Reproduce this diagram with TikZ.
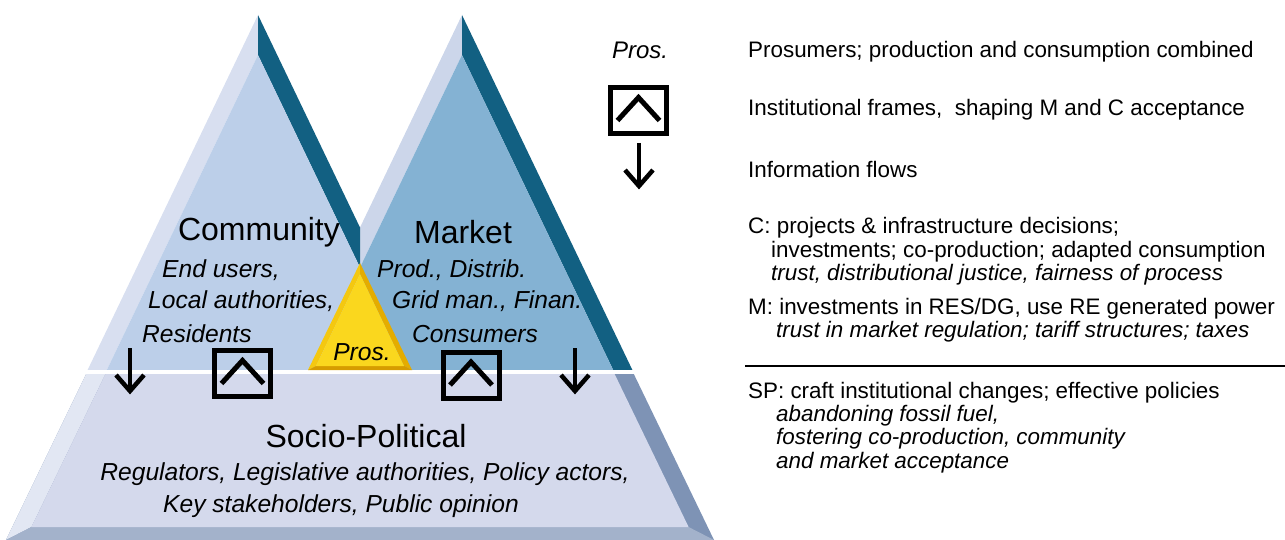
\documentclass[tikz,border=0pt]{standalone}
\usepackage{fontspec}
\setmainfont{Liberation Sans}
\definecolor{comface}{RGB}{188,207,233}
\definecolor{comlight}{RGB}{216,223,240}
\definecolor{teal}{RGB}{18,96,130}
\definecolor{mktface}{RGB}{132,178,211}
\definecolor{mktlight}{RGB}{204,214,234}
\definecolor{spface}{RGB}{212,217,236}
\definecolor{spleft}{RGB}{226,231,243}
\definecolor{spbottom}{RGB}{163,178,203}
\definecolor{spright}{RGB}{126,147,181}
\definecolor{yface}{RGB}{250,215,30}
\definecolor{yleft}{RGB}{244,200,16}
\definecolor{yright}{RGB}{228,172,0}
\definecolor{ybottom}{RGB}{214,156,0}
\tikzset{
  ttl/.style={font=\fontsize{32}{34}\selectfont, inner sep=0pt},
  lbl/.style={font=\fontsize{24.6}{26}\selectfont\itshape, inner sep=0pt},
  rtxt/.style={font=\fontsize{22.4}{24}\selectfont, inner sep=0pt, anchor=west},
  rit/.style={font=\fontsize{22.4}{24}\selectfont\itshape, inner sep=0pt, anchor=west},
  capbox/.style={draw=black, line width=5pt, minimum width=56pt, minimum height=46pt, inner sep=0pt, fill=none},
  caret/.style={line width=5pt, black},
  flow/.style={line width=4.5pt, black},
}
\begin{document}
\begin{tikzpicture}[x=1pt,y=-1pt]
\useasboundingbox (0,0) rectangle (1285,540);
% ---- lower socio-political trapezoid
\fill[spright] (86.2,374) -- (633.8,374) -- (714,540) -- (6,540) -- cycle;
\fill[spleft] (86.2,374) -- (105.4,374) -- (31.4,527) -- (6,540) -- cycle;
\fill[spbottom] (6,540) -- (31.4,527) -- (688.6,527) -- (714,540) -- cycle;
\fill[spface] (105.4,374) -- (614.6,374) -- (688.6,527) -- (31.4,527) -- cycle;
% ---- market triangle (right of x=360)
\begin{scope}
\clip (360,0) rectangle (800,369);
\fill[mktlight] (462,15) -- (462,55) -- (310.8,370) -- (291.6,370) -- cycle;
\fill[teal] (462,15) -- (632.4,370) -- (613.2,370) -- (462,55) -- cycle;
\fill[mktface] (462,55) -- (613.2,370) -- (310.8,370) -- cycle;
\end{scope}
% ---- community triangle (left of x=360)
\begin{scope}
\clip (0,0) rectangle (360,369);
\fill[comlight] (258,15) -- (258,55) -- (106.8,370) -- (87.6,370) -- cycle;
\fill[teal] (258,15) -- (428.4,370) -- (409.2,370) -- (258,55) -- cycle;
\fill[comface] (258,55) -- (409.2,370) -- (106.8,370) -- cycle;
\end{scope}
% ---- prosumer (yellow) triangle
\fill[yleft] (360,263) -- (360,274) -- (316,366) -- (308,370) -- cycle;
\fill[yright] (360,263) -- (412,370) -- (404,366) -- (360,274) -- cycle;
\fill[ybottom] (308,370) -- (316,366) -- (404,366) -- (412,370) -- cycle;
\fill[yface] (360,274) -- (404,366) -- (316,366) -- cycle;
% ---- titles and labels
\node[ttl] (com) at (259,232) {Community};
\node[ttl] (mkt) at (463,232) {Market};
\node[lbl, anchor=west] (c1) at (162,270) {End users,};
\node[lbl, anchor=west] (c2) at (148,301) {Local authorities,};
\node[lbl, anchor=west] (c3) at (142,334) {Residents};
\node[lbl, anchor=west] (m1) at (377,270) {Prod., Distrib.};
\node[lbl, anchor=west] (m2) at (392,301) {Grid man., Finan.};
\node[lbl, anchor=west] (m3) at (412,334) {Consumers};
\node[lbl] (pros) at (362,352) {Pros.};
\node[ttl] (sp) at (366,436) {Socio-Political};
\node[lbl] (sp1) at (365,474) {Regulators, Legislative authorities, Policy actors,};
\node[lbl] (sp2) at (341,506) {Key stakeholders, Public opinion};
% ---- institutional frame boxes
\node[capbox] (b1) at (242.5,373.5) {};
\node[capbox] (b2) at (471,375) {};
\node[capbox] (b3) at (638.5,110.5) {};
\foreach \b in {b1,b2,b3}{
  \draw[caret] ([shift={(-21,10)}]\b.center) -- ([shift={(0,-13)}]\b.center) -- ([shift={(21,10)}]\b.center);
}
% ---- information flow arrows
\coordinate (a1s) at (130,348); \coordinate (a1e) at (130,391);
\coordinate (a2s) at (575,348); \coordinate (a2e) at (575,391);
\coordinate (a3s) at (639,143); \coordinate (a3e) at (639,186);
\foreach \s/\e in {a1s/a1e,a2s/a2e,a3s/a3e}{
  \draw[flow] (\s) -- (\e);
  \draw[flow] ([shift={(-14,-16)}]\e) -- (\e) -- ([shift={(14,-16)}]\e);
}
\node[lbl, font=\fontsize{24}{26}\selectfont\itshape] (lpros) at (640,50) {Pros.};
% ---- legend texts
\node[rtxt] (t1) at (748,52) {Prosumers; production and consumption combined};
\node[rtxt] (t2) at (748,110) {Institutional frames,\ \ shaping M and C acceptance};
\node[rtxt] (t3) at (748,169) {Information flows};
\node[rtxt] (t4) at (748,228) {C: projects \& infrastructure decisions;};
\node[rtxt] (t5) at (771,252) {investments; co-production; adapted consumption};
\node[rit] (t6) at (771,275) {trust, distributional justice, fairness of process};
\node[rtxt] (t7) at (748,309) {M: investments in RES/DG, use RE generated power};
\node[rit] (t8) at (776,332) {trust in market regulation; tariff structures; taxes};
\coordinate (r1) at (745,366); \coordinate (r2) at (1285,366);
\draw[line width=1.5pt] (r1) -- (r2);
\node[rtxt] (t9) at (748,393) {SP: craft institutional changes; effective policies};
\node[rit] (t10) at (776,416) {abandoning fossil fuel,};
\node[rit] (t11) at (776,439) {fostering co-production, community};
\node[rit] (t12) at (776,463) {and market acceptance};
\end{tikzpicture}
\end{document}
